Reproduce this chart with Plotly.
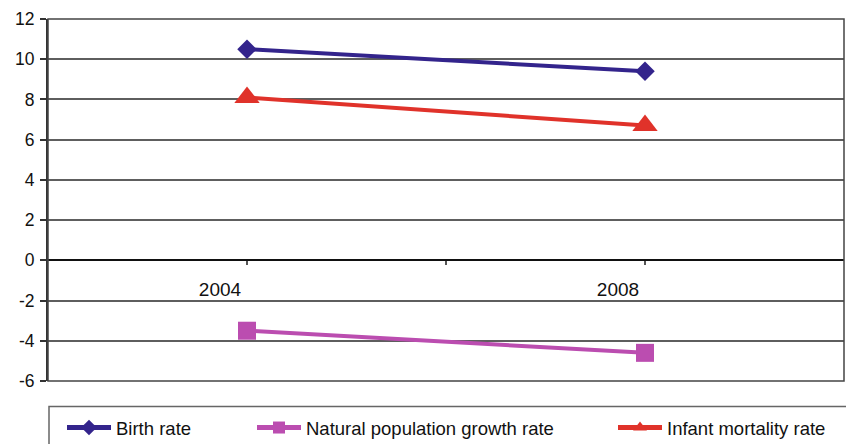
import plotly.graph_objects as go

# Rates per 1,000 population
years = [2004, 2008]
birth_rate = [10.5, 9.4]
natural_growth = [-3.5, -4.6]
infant_mortality = [8.1, 6.7]

series_names = ["Birth rate", "Natural population growth rate", "Infant mortality rate"]
y_tick_values = [-6, -4, -2, 0, 2, 4, 6, 8, 10, 12]
y_tick_labels = [str(v) for v in y_tick_values]
x_tick_values = [2004, 2006, 2008]
x_tick_labels = ["2004", "", "2008"]

FONT = "Liberation Sans, Arial, Helvetica, sans-serif"
W, H = 846, 444
M_L, M_R, M_T, M_B = 48, 2, 19, 63
plot_w = W - M_L - M_R
plot_h = H - M_T - M_B


def px_x(p):
    return (p - M_L) / plot_w


def px_y(p):
    return (H - M_B - p) / plot_h


fig = go.Figure()

fig.add_trace(go.Scatter(
    x=years, y=birth_rate, name=series_names[0], mode="lines+markers",
    line=dict(color="#33248C", width=4),
    marker=dict(symbol="diamond", size=15, color="#33248C"),
    legend="legend",
))
fig.add_trace(go.Scatter(
    x=years, y=natural_growth, name=series_names[1], mode="lines+markers",
    line=dict(color="#BB4DB0", width=4),
    marker=dict(symbol="square", size=18, color="#BB4DB0"),
    legend="legend2",
))
fig.add_trace(go.Scatter(
    x=years, y=infant_mortality, name=series_names[2], mode="lines+markers",
    line=dict(color="#E0322A", width=4),
    marker=dict(symbol="triangle-up", size=22, color="#E0322A"),
    legend="legend3",
))

legend_common = dict(
    orientation="h", yanchor="middle", xanchor="left",
    y=px_y(428), bgcolor="rgba(0,0,0,0)", borderwidth=0,
    font=dict(family=FONT, size=18.5, color="#111"),
    itemwidth=44, itemsizing="constant",
)

fig.update_layout(
    width=W, height=H,
    margin=dict(l=M_L, r=M_R, t=M_T, b=M_B, autoexpand=False),
    paper_bgcolor="white", plot_bgcolor="white",
    font=dict(family=FONT, size=17.5, color="#111"),
    showlegend=True,
    legend=dict(legend_common, x=px_x(62)),
    legend2=dict(legend_common, x=px_x(252)),
    legend3=dict(legend_common, x=px_x(613)),
    xaxis=dict(
        range=[2002, 2010], anchor="free", position=6 / 18,
        tickvals=x_tick_values, ticktext=x_tick_labels,
        ticks="outside", ticklen=4, tickwidth=1.5, tickcolor="#555",
        showline=True, linecolor="#111", linewidth=1.5,
        showgrid=False, zeroline=False,
        tickfont=dict(family=FONT, size=19, color="#111"),
        ticklabelstandoff=8, ticklabelshift=-27,
    ),
    yaxis=dict(
        range=[-6, 12], tickvals=y_tick_values, ticktext=y_tick_labels,
        ticks="outside", ticklen=6, tickwidth=1.5, tickcolor="#333",
        showline=True, linecolor="#333", linewidth=2,
        showgrid=True, gridcolor="#5e5e5e", gridwidth=1.5,
        zeroline=False, ticklabelstandoff=2,
        tickfont=dict(family=FONT, size=17.5, color="#111"),
    ),
    shapes=[
        # plot-area frame
        dict(type="rect", xref="paper", yref="paper", x0=0, x1=1, y0=0, y1=1,
             line=dict(color="#444", width=1.5), layer="above"),
        # legend frame
        dict(type="rect", xref="paper", yref="paper",
             x0=px_x(49), x1=px_x(860), y0=px_y(406.5), y1=px_y(470),
             line=dict(color="#666", width=1.5)),
    ],
)

fig.write_html("out.html")
